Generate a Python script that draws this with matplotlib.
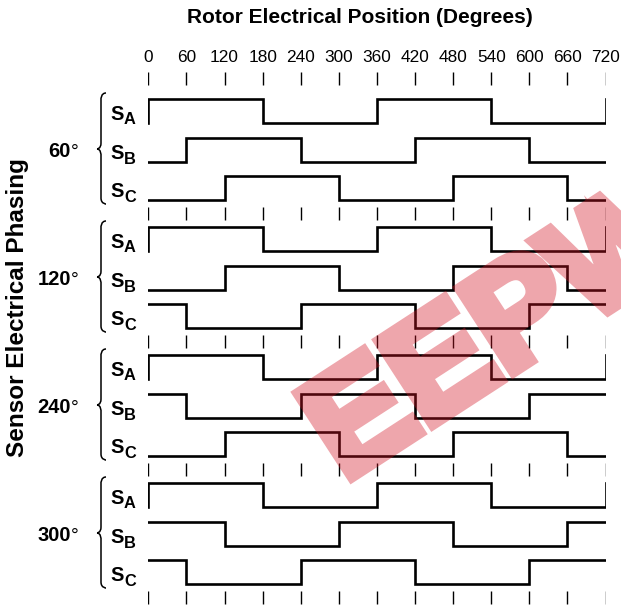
import matplotlib
matplotlib.use("Agg")
import matplotlib.pyplot as plt
import matplotlib.patheffects as pe
from matplotlib.path import Path
from matplotlib.patches import PathPatch

# ---- data -------------------------------------------------------------
angles = [0, 60, 120, 180, 240, 300, 360, 420, 480, 540, 600, 660, 720]
tick_labels = ["0", "60", "120", "180", "240", "300", "360",
               "420", "480", "540", "600", "660", "720"]
phasings = ["60", "120", "240", "300"]
sensors = ["A", "B", "C"]

# sensor logic level in each 60-degree segment (0-60, 60-120, ... 660-720)
levels_60 = [
    [1, 1, 1, 0, 0, 0, 1, 1, 1, 0, 0, 0],   # SA
    [0, 1, 1, 1, 0, 0, 0, 1, 1, 1, 0, 0],   # SB
    [0, 0, 1, 1, 1, 0, 0, 0, 1, 1, 1, 0],   # SC
]
levels_120 = [
    [1, 1, 1, 0, 0, 0, 1, 1, 1, 0, 0, 0],
    [0, 0, 1, 1, 1, 0, 0, 0, 1, 1, 1, 0],
    [1, 0, 0, 0, 1, 1, 1, 0, 0, 0, 1, 1],
]
levels_240 = [
    [1, 1, 1, 0, 0, 0, 1, 1, 1, 0, 0, 0],
    [1, 0, 0, 0, 1, 1, 1, 0, 0, 0, 1, 1],
    [0, 0, 1, 1, 1, 0, 0, 0, 1, 1, 1, 0],
]
levels_300 = [
    [1, 1, 1, 0, 0, 0, 1, 1, 1, 0, 0, 0],
    [1, 1, 0, 0, 0, 1, 1, 1, 0, 0, 0, 1],
    [1, 0, 0, 0, 1, 1, 1, 0, 0, 0, 1, 1],
]
all_levels = [levels_60, levels_120, levels_240, levels_300]

# ---- layout (pixels) ---------------------------------------------------
W, H = 621, 612
X0, X1 = 148.3, 605.5          # horizontal pixel span of 0..720 degrees
GROUP_STEP = 128.0
ROW_STEP = [0.0, 39.0, 77.0]
FIRST_LOW = 123.0
AMP = 24.5
LW = 1.9

plt.rcParams["font.family"] = ["Liberation Sans", "DejaVu Sans"]

fig = plt.figure(figsize=(W / 100, H / 100), dpi=100)

# axes for the waveforms: x in degrees, y in pixel rows
ax = fig.add_axes([X0 / W, 0, (X1 - X0) / W, 1])
ax.set_xlim(0, 720)
ax.set_ylim(H, 0)
ax.axis("off")

# overlay axes in pixel units for labels and braces
pax = fig.add_axes([0, 0, 1, 1])
pax.set_xlim(0, W)
pax.set_ylim(H, 0)
pax.axis("off")
pax.patch.set_alpha(0)


def draw_ticks(y_top, length=12.5):
    for a in angles:
        ax.plot([a, a], [y_top, y_top + length], color="black",
                lw=1.0, solid_capstyle="butt")


# tick labels along the top
for a, lab in zip(angles, tick_labels):
    ax.text(a, 62, lab, ha="center", va="baseline", fontsize=12.4)
draw_ticks(72)

pax.text(360, 23, "Rotor Electrical Position (Degrees)", ha="center",
         va="baseline", fontsize=15, fontweight="bold")
pax.text(18, 308, "Sensor Electrical Phasing", ha="center", va="center",
         rotation=90, fontsize=17.5, fontweight="bold")


def brace(top, tip, bottom, x_tip=97.0, x_mid=101.0, x_end=106.0):
    c = 6.0
    verts = [
        (x_end, top),
        (x_mid, top), (x_mid, top + c), (x_mid, top + c),
        (x_mid, tip - c),
        (x_mid, tip), (x_tip, tip), (x_tip, tip),
        (x_mid, tip), (x_mid, tip + c), (x_mid, tip + c),
        (x_mid, bottom - c),
        (x_mid, bottom), (x_end, bottom), (x_end, bottom),
    ]
    codes = [Path.MOVETO,
             Path.CURVE4, Path.CURVE4, Path.CURVE4,
             Path.LINETO,
             Path.CURVE4, Path.CURVE4, Path.CURVE4,
             Path.CURVE4, Path.CURVE4, Path.CURVE4,
             Path.LINETO,
             Path.CURVE4, Path.CURVE4, Path.CURVE4]
    pax.add_patch(PathPatch(Path(verts, codes), fill=False, lw=1.1,
                            edgecolor="black"))


for g, (phase, levels) in enumerate(zip(phasings, all_levels)):
    base = FIRST_LOW + g * GROUP_STEP
    for r, (sensor, lev) in enumerate(zip(sensors, levels)):
        low = base + ROW_STEP[r]
        # wrap-around edges at 0 and 720 degrees
        xs = [0] + angles + [720]
        ys_lev = [lev[-1]] + lev + [lev[-1], lev[0]]
        ys = [low - AMP * v for v in ys_lev]
        ax.step(xs[:len(ys)], ys, where="post", color="black", lw=LW,
                solid_joinstyle="miter")
        # sensor name with subscript
        pax.text(110.5, low - 3.0, "S", ha="left", va="baseline",
                 fontsize=14.5, fontweight="bold")
        pax.text(124.0, low + 1.5, sensor, ha="left", va="baseline",
                 fontsize=11.8, fontweight="bold")
    # phasing label
    pax.text(71, base + 34, phase, ha="right", va="baseline", fontsize=14.5,
             fontweight="bold")
    pax.text(71, base + 34, "\u00b0", ha="left", va="baseline", fontsize=14)
    brace(base - 30, base + 26, base + 81)
    draw_ticks(base + 84)


# watermark: glyphs thickened by an opaque stroke, then faded as one layer
WM_COLOR = "#d21424"
WM_ALPHA = 0.38


def fade(img, dpi):
    out = img.copy()
    out[..., 3] *= WM_ALPHA
    return out, 0, 0


wm = fig.text(344 / W, 1 - 482 / H, "EEPW", ha="left", va="baseline",
              rotation=33, rotation_mode="anchor", fontsize=104,
              fontweight="bold", color=WM_COLOR, zorder=10,
              path_effects=[pe.Stroke(linewidth=8, foreground=WM_COLOR,
                                      joinstyle="miter"),
                            pe.Normal()])
wm.set_agg_filter(fade)

fig.savefig("out.png", dpi=100)
